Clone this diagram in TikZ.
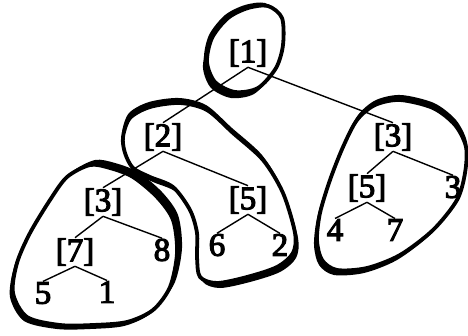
\documentclass[tikz,border=0pt]{standalone}
\usepackage{fontspec}
\setmainfont{Liberation Serif}
\newfontfamily\keyfont{Liberation Serif}[FakeBold=3.5]
\usetikzlibrary{positioning}

% outlines of the pages
\newcommand{\pageroot}{plot[smooth cycle] coordinates {(268,6) (282,18) (283,45)
  (276,68) (258,88) (235,92) (215,82) (207,62) (212,38) (228,18) (248,8)}}
\newcommand{\pagemid}{plot[smooth cycle] coordinates {(150,107) (180,103) (207,110)
  (233,133) (263,160) (283,193) (295,233) (293,253) (277,267) (247,277) (217,283)
  (200,277) (197,257) (197,233) (190,210) (173,187) (150,177) (133,168) (125,153)
  (123,137) (130,118)}}
\newcommand{\pageleft}{plot[smooth cycle] coordinates {(90,165) (110,168) (133,177)
  (157,197) (173,220) (177,253) (170,287) (153,310) (127,322) (93,325) (60,325)
  (27,317) (13,293) (17,263) (30,233) (50,200) (67,177)}}
\newcommand{\pageright}{plot[smooth cycle] coordinates {(400,100) (433,108) (455,125)
  (466,147) (465,173) (457,200) (433,230) (400,255) (367,268) (337,270) (322,260)
  (317,240) (320,213) (330,180) (343,147) (357,120) (375,105)}}

\begin{document}
\begin{tikzpicture}[
    x=1bp, y=-1bp,
    key/.style   = {inner sep=0.5bp, font=\keyfont\fontsize{33}{35}\selectfont},
    br/.style    = {draw, line width=1.4bp},
    blob/.style  = {draw, line width=3.8bp, line join=round},
    rim/.style   = {fill=black},
]
\useasboundingbox (0,0) rectangle (468,335);

% ============ tree keys ============
\node[key] (r)    at (248,53)  {[1]};
\node[key] (a)    at (163,137) {[2]};
\node[key] (b)    at (393,137) {[3]};
\node[key] (aa)   at (103,202) {[3]};
\node[key] (ab)   at (248,200) {[5]};
\node[key] (ba)   at (367,188) {[5]};
\node[key] (bb)   at (453,187) {3};
\node[key] (aaa)  at (75,252)  {[7]};
\node[key] (aab)  at (162,250) {8};
\node[key] (aaaa) at (43,293)  {5};
\node[key] (aaab) at (107,292) {1};
\node[key] (aba)  at (217,245) {6};
\node[key] (abb)  at (280,245) {2};
\node[key] (baa)  at (335,230) {4};
\node[key] (bab)  at (395,230) {7};

% ============ branches ============
\draw[br] (r.south) -- (a.north);
\draw[br] (r.south) -- (b.north);
\draw[br] (a.south) -- (aa.north);
\draw[br] (a.south) -- (ab.north);
\draw[br] (aa.south) -- (aaa.north);
\draw[br] (aa.south) -- (aab.north);
\draw[br] (aaa.south) -- (aaaa.north);
\draw[br] (aaa.south) -- (aaab.north);
\draw[br] (ab.south) -- (aba.north);
\draw[br] (ab.south) -- (abb.north);
\draw[br] (b.south) -- (ba.north);
\draw[br] (b.south) -- (bb.north);
\draw[br] (ba.south) -- (baa.north);
\draw[br] (ba.south) -- (bab.north);

% ============ pages (hand-drawn loops) ============
% heavier side: a shifted filled copy, kept outside the page only
\begin{scope}[even odd rule]
  \clip (-20,-20) rectangle (490,355) \pageroot;
  \path[rim, shift={(-4,6)}] \pageroot;
  \path[rim, shift={(-3,-3)}] \pageroot;
\end{scope}
\draw[blob] \pageroot;

\begin{scope}[even odd rule]
  \clip (-20,-20) rectangle (490,355) \pagemid;
  \path[rim, shift={(3,5)}] \pagemid;
  \path[rim, shift={(-1,-5)}] \pagemid;
\end{scope}
\draw[blob] \pagemid;

\begin{scope}[even odd rule]
  \clip (-20,-20) rectangle (490,355) \pageleft;
  \path[rim, shift={(-3,4)}] \pageleft;
  \path[rim, shift={(5,-5)}] \pageleft;
\end{scope}
\draw[blob] \pageleft;

\begin{scope}[even odd rule]
  \clip (-20,-20) rectangle (490,355) \pageright;
  \path[rim, shift={(-3,5)}] \pageright;
  \path[rim, shift={(1,-5)}] \pageright;
\end{scope}
\draw[blob] \pageright;

\end{tikzpicture}
\end{document}
